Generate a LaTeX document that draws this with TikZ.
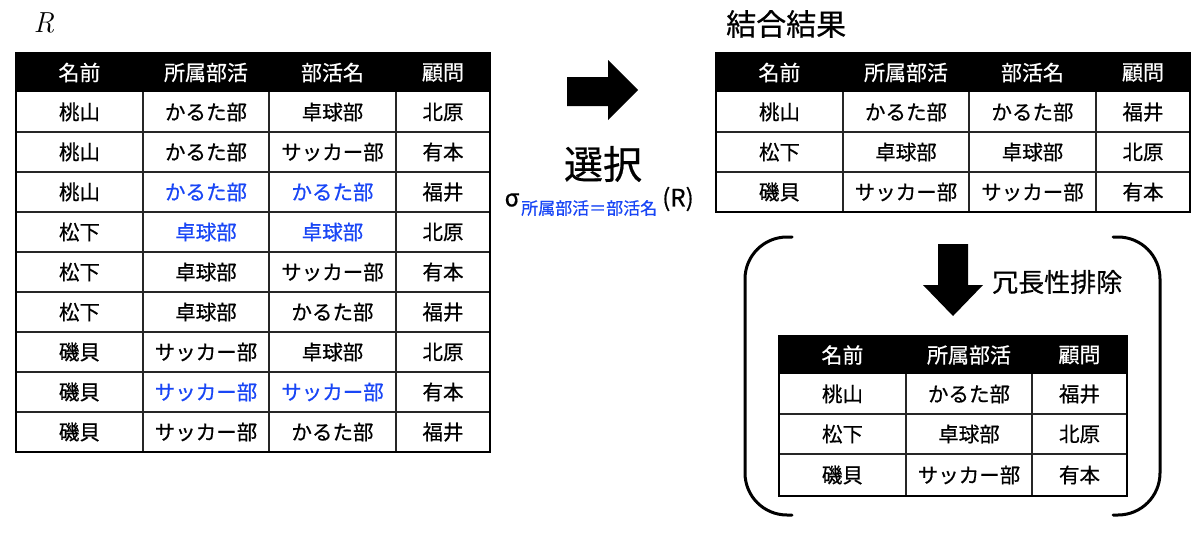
\documentclass[tikz,border=0pt]{standalone}
\usepackage{fontspec}
\newfontfamily\jp[FakeBold=0.6]{Noto Sans CJK JP}
\definecolor{selblue}{RGB}{25,70,245}
\tikzset{
  cell/.style={font=\jp\fontsize{20.5}{24}\selectfont, text=black, inner sep=0pt, anchor=center},
  head/.style={cell, text=white, font=\jp\fontsize{21}{24}\selectfont},
  grid/.style={line width=1.5pt, draw=black!85},
  frame/.style={line width=2.6pt, draw=black},
  paren/.style={line width=3pt, line cap=round},
  label/.style={font=\jp\fontsize{30}{34}\selectfont, inner sep=0pt},
}
\begin{document}
\begin{tikzpicture}[x=1pt,y=-1pt]
\useasboundingbox (0,0) rectangle (1200,539);

% ---------- R ----------
\node[inner sep=0pt, font=\itshape\fontsize{29}{32}\selectfont] (Rlab) at (44,23) {R};

% ---------- left table ----------
\fill (16,53) rectangle (490,92);
\foreach \y in {132,172,...,412} \draw[grid] (16,\y) -- (490,\y);
\foreach \x in {143,269,396} \draw[grid] (\x,92) -- (\x,452);
\draw[frame] (16,53) rectangle (490,452);
\node[head] (Lh1) at (79.5,72.5) {名前};
\node[head] (Lh2) at (206,72.5) {所属部活};
\node[head] (Lh3) at (332.5,72.5) {部活名};
\node[head] (Lh4) at (443,72.5) {顧問};
\foreach \r/\na/\sb/\bn/\ad/\co in {
  1/桃山/かるた部/卓球部/北原/black,
  2/桃山/かるた部/サッカー部/有本/black,
  3/桃山/かるた部/かるた部/福井/selblue,
  4/松下/卓球部/卓球部/北原/selblue,
  5/松下/卓球部/サッカー部/有本/black,
  6/松下/卓球部/かるた部/福井/black,
  7/磯貝/サッカー部/卓球部/北原/black,
  8/磯貝/サッカー部/サッカー部/有本/selblue,
  9/磯貝/サッカー部/かるた部/福井/black}{
  \node[cell] (L\r a) at (79.5,{72+40*\r}) {\na};
  \node[cell,text=\co] (L\r b) at (206,{72+40*\r}) {\sb};
  \node[cell,text=\co] (L\r c) at (332.5,{72+40*\r}) {\bn};
  \node[cell] (L\r d) at (443,{72+40*\r}) {\ad};
}

% ---------- selection arrow ----------
\fill (567,77) -- (608,77) -- (608,60) -- (638,90) -- (608,120) -- (608,106) -- (567,106) -- cycle;
\node[label, font=\jp\fontsize{39}{42}\selectfont] (sel) at (603,164) {選択};
\node[inner sep=0pt, font=\jp\fontsize{24}{28}\selectfont] (sig) at (512,200) {σ};
\node[inner sep=0pt, anchor=west, text=selblue, font=\jp\fontsize{17}{20}\selectfont] (cond) at (521,208) {所属部活＝部活名};
\node[inner sep=0pt, font=\jp\fontsize{24}{28}\selectfont] (argR) at (678,199) {(R)};

% ---------- join result ----------
\node[label, anchor=west] (jres) at (726,24) {結合結果};
\fill (716,53) rectangle (1190,92);
\foreach \y in {132,172} \draw[grid] (716,\y) -- (1190,\y);
\foreach \x in {843,969,1096} \draw[grid] (\x,92) -- (\x,212);
\draw[frame] (716,53) rectangle (1190,212);
\node[head] (Th1) at (779.5,72.5) {名前};
\node[head] (Th2) at (906,72.5) {所属部活};
\node[head] (Th3) at (1032.5,72.5) {部活名};
\node[head] (Th4) at (1143,72.5) {顧問};
\foreach \r/\na/\sb/\bn/\ad in {
  1/桃山/かるた部/かるた部/福井,
  2/松下/卓球部/卓球部/北原,
  3/磯貝/サッカー部/サッカー部/有本}{
  \node[cell] (T\r a) at (779.5,{72+40*\r}) {\na};
  \node[cell] (T\r b) at (906,{72+40*\r}) {\sb};
  \node[cell] (T\r c) at (1032.5,{72+40*\r}) {\bn};
  \node[cell] (T\r d) at (1143,{72+40*\r}) {\ad};
}

% ---------- brackets ----------
\draw[paren, rounded corners=42pt] (792,237) -- (745,237) -- (745,515) -- (792,515);
\draw[paren, rounded corners=42pt] (1113,237) -- (1160,237) -- (1160,515) -- (1113,515);

% ---------- redundancy removal ----------
\fill (938,244) -- (968,244) -- (968,285) -- (983,285) -- (953,316) -- (923,285) -- (938,285) -- cycle;
\node[label, anchor=west, font=\jp\fontsize{26}{30}\selectfont] (red) at (992,282) {冗長性排除};

\fill (779,336) rectangle (1127,374);
\foreach \y in {414,454} \draw[grid] (779,\y) -- (1127,\y);
\foreach \x in {906,1032} \draw[grid] (\x,374) -- (\x,496);
\draw[frame] (779,336) rectangle (1127,496);
\node[head] (Bh1) at (842.5,355) {名前};
\node[head] (Bh2) at (969,355) {所属部活};
\node[head] (Bh3) at (1079.5,355) {顧問};
\foreach \r/\na/\sb/\ad/\yy in {
  1/桃山/かるた部/福井/394,
  2/松下/卓球部/北原/434,
  3/磯貝/サッカー部/有本/475}{
  \node[cell] (B\r a) at (842.5,\yy) {\na};
  \node[cell] (B\r b) at (969,\yy) {\sb};
  \node[cell] (B\r c) at (1079.5,\yy) {\ad};
}
\end{tikzpicture}
\end{document}
